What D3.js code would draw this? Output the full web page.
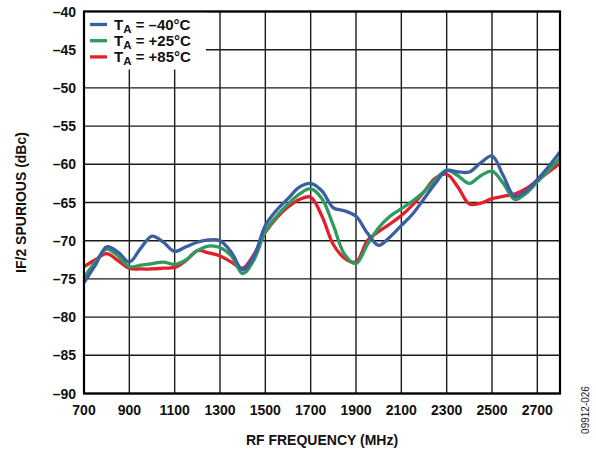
<!DOCTYPE html>
<html><head><meta charset="utf-8">
<script src="https://cdn.jsdelivr.net/npm/d3@7"></script>
<style>
html,body{margin:0;padding:0;background:#fff;}
svg{display:block;font-family:"Liberation Sans",Arial,sans-serif;font-weight:bold;}
</style></head>
<body>
<svg id="chart" width="596" height="452"></svg>
<script>
const freqs = [700,750,800,850,900,950,1000,1050,1100,1150,1200,1250,1300,1350,1400,1450,1500,1550,1600,1650,1700,1750,1800,1850,1900,1950,2000,2050,2100,2150,2200,2250,2300,2350,2400,2450,2500,2550,2600,2650,2700,2750,2800];
const blueM40 = [-75.5,-73.2,-70.8,-71.5,-72.8,-71.0,-69.4,-70.2,-71.4,-70.8,-70.2,-69.9,-70.0,-71.5,-73.8,-72.0,-68.0,-66.0,-64.5,-63.0,-62.5,-63.5,-65.7,-66.1,-66.8,-69.0,-70.6,-69.5,-68.0,-66.5,-64.5,-62.5,-60.8,-61.0,-61.0,-59.8,-58.9,-61.5,-64.2,-63.5,-62.0,-60.3,-58.4];
const greenP25 = [-74.8,-72.8,-71.1,-72.0,-73.4,-73.2,-73.0,-72.8,-73.1,-72.5,-71.3,-70.7,-70.9,-72.0,-74.3,-72.5,-68.8,-66.8,-65.2,-63.9,-63.2,-64.5,-68.0,-71.8,-73.0,-70.5,-68.3,-66.8,-65.8,-64.8,-63.6,-62.0,-60.8,-61.5,-62.5,-61.5,-60.9,-62.5,-64.6,-63.8,-62.3,-60.8,-59.2];
const redP85 = [-73.4,-72.5,-71.7,-72.6,-73.6,-73.7,-73.7,-73.6,-73.5,-72.6,-71.3,-71.6,-72.0,-72.8,-73.6,-71.8,-68.9,-67.0,-65.6,-64.6,-64.3,-66.8,-70.5,-72.3,-72.8,-70.0,-68.8,-67.8,-66.7,-65.3,-63.6,-61.8,-61.3,-63.0,-65.2,-65.1,-64.5,-64.2,-63.9,-63.2,-62.1,-61.0,-59.9];
const seriesNames = ["–40°C","+25°C","+85°C"];
const seriesColors = ["#3a5fa2","#2f9a5e","#e2202c"];
const xTicks = [700,900,1100,1300,1500,1700,1900,2100,2300,2500,2700];
const yTicks = [-40,-45,-50,-55,-60,-65,-70,-75,-80,-85,-90];
const xTitle = "RF FREQUENCY (MHz)";
const yTitle = "IF/2 SPURIOUS (dBc)";
const figId = "09912-026";

const svg = d3.select("#chart");
const L=84, R=560, T=11.5, B=393.5;
const x = d3.scaleLinear().domain([700,2800]).range([L,R]);
const y = d3.scaleLinear().domain([-90,-40]).range([B,T]);
const fmt = v => v<0 ? "–"+Math.abs(v) : String(v);

// grid
const g = svg.append("g");
g.selectAll(".vx").data(xTicks.concat([2800])).join("line")
  .attr("x1",d=>x(d)).attr("x2",d=>x(d)).attr("y1",T).attr("y2",B)
  .attr("stroke","#1a1a1a").attr("stroke-width",1.4);
g.selectAll(".hy").data(yTicks).join("line")
  .attr("y1",d=>y(d)).attr("y2",d=>y(d)).attr("x1",L).attr("x2",R)
  .attr("stroke","#1a1a1a").attr("stroke-width",1.4);

// legend background
svg.append("rect").attr("x",L).attr("y",T).attr("width",122).attr("height",58).attr("fill","#fff");

// lines
const allSeries=[blueM40,greenP25,redP85];
const line = d3.line().x((d,i)=>x(freqs[i])).y(d=>y(d)).curve(d3.curveCatmullRom.alpha(0.5));
[2,1,0].forEach(k=>{
  svg.append("path").attr("d",line(allSeries[k])).attr("fill","none")
    .attr("stroke",seriesColors[k]).attr("stroke-width",3.3).attr("stroke-linejoin","round");
});

// frame
svg.append("rect").attr("x",L).attr("y",T).attr("width",R-L).attr("height",B-T)
  .attr("fill","none").attr("stroke","#000").attr("stroke-width",2.2);

// tick labels
svg.selectAll(".yl").data(yTicks).join("text")
  .attr("x",76).attr("y",d=>y(d)).attr("dy","0.36em").attr("text-anchor","end")
  .attr("font-size",14).attr("fill","#111").text(fmt);
svg.selectAll(".xl").data(xTicks).join("text")
  .attr("x",d=>x(d)).attr("y",415).attr("text-anchor","middle")
  .attr("font-size",14).attr("fill","#111").text(fmt);

// titles
svg.append("text").attr("x",(L+R)/2).attr("y",445).attr("text-anchor","middle")
  .attr("font-size",14).attr("fill","#111").text(xTitle);
svg.append("text").attr("transform",`translate(26,${(T+B)/2}) rotate(-90)`)
  .attr("text-anchor","middle").attr("font-size",14).attr("fill","#111").text(yTitle);
svg.append("text").attr("transform",`translate(589,410) rotate(-90)`)
  .attr("text-anchor","middle").attr("font-size",10).attr("font-weight","normal").attr("fill","#222").text(figId);

// legend
seriesNames.forEach((n,i)=>{
  const yy = 24.5 + i*16.2;
  svg.append("line").attr("x1",90).attr("x2",107).attr("y1",yy).attr("y2",yy)
    .attr("stroke",seriesColors[i]).attr("stroke-width",3.3);
  const t = svg.append("text").attr("x",114).attr("y",yy+5).attr("font-size",15).attr("fill","#111");
  t.append("tspan").text("T");
  t.append("tspan").attr("font-size",11.5).attr("dy",3.5).text("A");
  t.append("tspan").attr("dy",-3.5).text(" = "+n);
});
</script>
</body></html>
